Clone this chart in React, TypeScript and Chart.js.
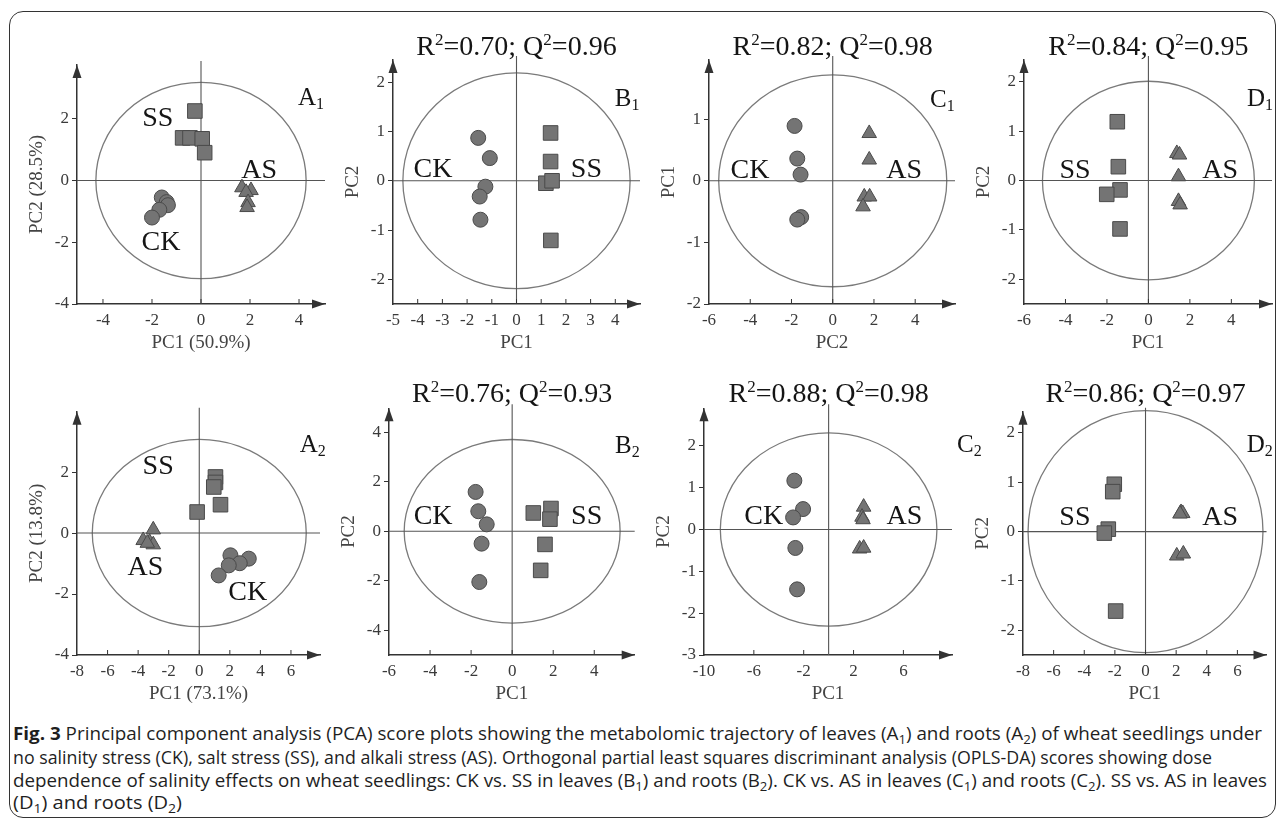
import React, { useEffect, useLayoutEffect, useRef } from "react";
import { Chart, registerables } from "chart.js";
Chart.register(...registerables);

type Pt = [number, number];

// ---------------- data ----------------
// A1 – PCA leaves
const a1SS: Pt[] = [[-0.25, 2.25], [-0.75, 1.38], [-0.45, 1.38], [0.05, 1.35], [0.15, 0.9]];
const a1CK: Pt[] = [[-1.6, -0.55], [-1.4, -0.7], [-1.35, -0.8], [-1.7, -0.95], [-2.0, -1.2]];
const a1AS: Pt[] = [[1.67, -0.23], [2.04, -0.32], [1.84, -0.38], [1.92, -0.71], [1.88, -0.87]];
// B1 – CK vs SS leaves
const b1CK: Pt[] = [[-1.55, 0.87], [-1.08, 0.46], [-1.26, -0.12], [-1.49, -0.32], [-1.46, -0.79]];
const b1SS: Pt[] = [[1.38, 0.97], [1.38, 0.39], [1.19, -0.05], [1.44, 0.0], [1.39, -1.21]];
// C1 – CK vs AS leaves
const c1CK: Pt[] = [[-1.85, 0.89], [-1.72, 0.36], [-1.56, 0.1], [-1.53, -0.59], [-1.72, -0.63]];
const c1AS: Pt[] = [[1.77, 0.77], [1.77, 0.34], [1.53, -0.26], [1.79, -0.26], [1.47, -0.42]];
// D1 – SS vs AS leaves
const d1SS: Pt[] = [[-1.5, 1.19], [-1.45, 0.28], [-1.37, -0.19], [-2.01, -0.28], [-1.37, -0.98]];
const d1AS: Pt[] = [[1.37, 0.55], [1.5, 0.52], [1.45, 0.08], [1.45, -0.42], [1.53, -0.49]];
// A2 – PCA roots
const a2SS: Pt[] = [[1.06, 1.84], [1.06, 1.66], [0.95, 1.51], [1.39, 0.93], [-0.14, 0.69]];
const a2AS: Pt[] = [[-3.01, 0.11], [-3.67, -0.24], [-3.25, -0.3], [-3.01, -0.38], [-3.4, -0.33]];
const a2CK: Pt[] = [[2.04, -0.73], [3.24, -0.84], [2.65, -0.99], [1.93, -1.06], [1.27, -1.39]];
// B2 – CK vs SS roots
const b2CK: Pt[] = [[-1.78, 1.59], [-1.65, 0.81], [-1.24, 0.28], [-1.49, -0.5], [-1.6, -2.05]];
const b2SS: Pt[] = [[1.03, 0.74], [1.89, 0.92], [1.84, 0.49], [1.6, -0.53], [1.39, -1.58]];
// C2 – CK vs AS roots
const c2CK: Pt[] = [[-2.75, 1.17], [-2.05, 0.49], [-2.85, 0.29], [-2.67, -0.44], [-2.53, -1.43]];
const c2AS: Pt[] = [[2.81, 0.54], [2.68, 0.3], [2.76, 0.24], [2.49, -0.46], [2.81, -0.44]];
// D2 – SS vs AS roots
const d2SS: Pt[] = [[-2.04, 0.96], [-2.14, 0.81], [-2.43, 0.05], [-2.69, -0.03], [-1.95, -1.61]];
const d2AS: Pt[] = [[2.32, 0.39], [2.43, 0.37], [2.25, 0.36], [2.04, -0.49], [2.47, -0.45]];

// axis extents
const a1XRange = [-5.06, 5.06], a1YRange = [-4, 3.74];
const b1XRange = [-5, 5], b1YRange = [-2.5, 2.45];
const c1XRange = [-6, 5.93], c1YRange = [-2, 1.96];
const d1XRange = [-6, 5.96], d1YRange = [-2.5, 2.44];
const a2XRange = [-8, 7.9], a2YRange = [-4, 3.98];
const b2XRange = [-6, 5.97], b2YRange = [-5, 4.97];
const c2XRange = [-10, 9.9], c2YRange = [-3, 2.9];
const d2XRange = [-8, 7.9], d2YRange = [-2.5, 2.43];

// tick labels
const a1XTicks = [-4, -2, 0, 2, 4], a1YTicks = [-4, -2, 0, 2];
const b1XTicks = [-5, -4, -3, -2, -1, 0, 1, 2, 3, 4], b1YTicks = [-2, -1, 0, 1, 2];
const c1XTicks = [-6, -4, -2, 0, 2, 4], c1YTicks = [-2, -1, 0, 1];
const d1XTicks = [-6, -4, -2, 0, 2, 4], d1YTicks = [-2, -1, 0, 1, 2];
const a2XTicks = [-8, -6, -4, -2, 0, 2, 4, 6], a2YTicks = [-4, -2, 0, 2];
const b2XTicks = [-6, -4, -2, 0, 2, 4], b2YTicks = [-4, -2, 0, 2, 4];
const c2XTicks = [-10, -6, -2, 2, 6], c2YTicks = [-3, -2, -1, 0, 1, 2];
const d2XTicks = [-8, -6, -4, -2, 0, 2, 4, 6], d2YTicks = [-2, -1, 0, 1, 2];

// Hotelling ellipse half-axes (x, y)
const a1Ellipse = [4.29, 3.18], b1Ellipse = [4.6, 2.19], c1Ellipse = [5.53, 1.72], d1Ellipse = [5.11, 2.01];
const a2Ellipse = [7.0, 3.07], b2Ellipse = [5.26, 3.71], c2Ellipse = [8.69, 2.31], d2Ellipse = [7.67, 2.45];

// model statistics (B1, C1, D1, B2, C2, D2)
const r2Values = [0.7, 0.82, 0.84, 0.76, 0.88, 0.86];
const q2Values = [0.96, 0.98, 0.95, 0.93, 0.98, 0.97];

// ---------------- configuration ----------------
type Shape = "circle" | "rect" | "triangle";
interface Group { shape: Shape; pts: Pt[]; name: string; at: Pt }
interface Panel {
  key: string; letter: string; sub: string; letterAt: Pt;
  xr: number[]; yr: number[]; xt: number[]; yt: number[];
  xTitle: string; yTitle: string; ellipse: number[];
  stats?: [number, number];
  groups: Group[];
  axisX: number; axisY: number; topY: number; rightX: number; rowTop: number; titleY: number;
}

const TOP = { rowTop: 0, axisY: 304, titleY: 55 };
const BOT = { rowTop: 360, axisY: 655, titleY: 402 };

const panels: Panel[] = [
  {
    key: "A1", letter: "A", sub: "1", letterAt: [3.96, 2.45], xr: a1XRange, yr: a1YRange, xt: a1XTicks, yt: a1YTicks,
    xTitle: "PC1 (50.9%)", yTitle: "PC2 (28.5%)", ellipse: a1Ellipse,
    groups: [
      { shape: "rect", pts: a1SS, name: "SS", at: [-1.76, 2.0] },
      { shape: "circle", pts: a1CK, name: "CK", at: [-1.63, -2.0] },
      { shape: "triangle", pts: a1AS, name: "AS", at: [2.37, 0.32] },
    ],
    axisX: 77, topY: 65, rightX: 325, ...TOP,
  },
  {
    key: "B1", letter: "B", sub: "1", letterAt: [3.98, 1.52], xr: b1XRange, yr: b1YRange, xt: b1XTicks, yt: b1YTicks,
    xTitle: "PC1", yTitle: "PC2", ellipse: b1Ellipse, stats: [r2Values[0], q2Values[0]],
    groups: [
      { shape: "circle", pts: b1CK, name: "CK", at: [-3.38, 0.22] },
      { shape: "rect", pts: b1SS, name: "SS", at: [2.83, 0.22] },
    ],
    axisX: 393.3, topY: 60, rightX: 640, ...TOP,
  },
  {
    key: "C1", letter: "C", sub: "1", letterAt: [4.72, 1.2], xr: c1XRange, yr: c1YRange, xt: c1XTicks, yt: c1YTicks,
    xTitle: "PC2", yTitle: "PC1", ellipse: c1Ellipse, stats: [r2Values[1], q2Values[1]],
    groups: [
      { shape: "circle", pts: c1CK, name: "CK", at: [-4.01, 0.16] },
      { shape: "triangle", pts: c1AS, name: "AS", at: [3.46, 0.16] },
    ],
    axisX: 709, topY: 60, rightX: 955, ...TOP,
  },
  {
    key: "D1", letter: "D", sub: "1", letterAt: [4.75, 1.51], xr: d1XRange, yr: d1YRange, xt: d1XTicks, yt: d1YTicks,
    xTitle: "PC1", yTitle: "PC2", ellipse: d1Ellipse, stats: [r2Values[2], q2Values[2]],
    groups: [
      { shape: "rect", pts: d1SS, name: "SS", at: [-3.54, 0.2] },
      { shape: "triangle", pts: d1AS, name: "AS", at: [3.46, 0.2] },
    ],
    axisX: 1024, topY: 60, rightX: 1272, ...TOP,
  },
  {
    key: "A2", letter: "A", sub: "2", letterAt: [6.57, 2.67], xr: a2XRange, yr: a2YRange, xt: a2XTicks, yt: a2YTicks,
    xTitle: "PC1 (73.1%)", yTitle: "PC2 (13.8%)", ellipse: a2Ellipse,
    groups: [
      { shape: "rect", pts: a2SS, name: "SS", at: [-2.69, 2.17] },
      { shape: "triangle", pts: a2AS, name: "AS", at: [-3.52, -1.12] },
      { shape: "circle", pts: a2CK, name: "CK", at: [3.17, -1.94] },
    ],
    axisX: 76.7, topY: 411.7, rightX: 320, ...BOT,
  },
  {
    key: "B2", letter: "B", sub: "2", letterAt: [5.01, 3.17], xr: b2XRange, yr: b2YRange, xt: b2XTicks, yt: b2YTicks,
    xTitle: "PC1", yTitle: "PC2", ellipse: b2Ellipse, stats: [r2Values[3], q2Values[3]],
    groups: [
      { shape: "circle", pts: b2CK, name: "CK", at: [-3.85, 0.61] },
      { shape: "rect", pts: b2SS, name: "SS", at: [3.63, 0.61] },
    ],
    axisX: 389, topY: 408.3, rightX: 634.7, ...BOT,
  },
  {
    key: "C2", letter: "C", sub: "2", letterAt: [10.3, 1.86], xr: c2XRange, yr: c2YRange, xt: c2XTicks, yt: c2YTicks,
    xTitle: "PC1", yTitle: "PC2", ellipse: c2Ellipse, stats: [r2Values[4], q2Values[4]],
    groups: [
      { shape: "circle", pts: c2CK, name: "CK", at: [-5.21, 0.32] },
      { shape: "triangle", pts: c2AS, name: "AS", at: [6.09, 0.32] },
    ],
    axisX: 704.4, topY: 408.3, rightX: 952, ...BOT,
  },
  {
    key: "D2", letter: "D", sub: "2", letterAt: [6.61, 1.62], xr: d2XRange, yr: d2YRange, xt: d2XTicks, yt: d2YTicks,
    xTitle: "PC1", yTitle: "PC2", ellipse: d2Ellipse, stats: [r2Values[5], q2Values[5]],
    groups: [
      { shape: "rect", pts: d2SS, name: "SS", at: [-4.61, 0.29] },
      { shape: "triangle", pts: d2AS, name: "AS", at: [4.87, 0.29] },
    ],
    axisX: 1022.7, topY: 411.7, rightX: 1266.5, ...BOT,
  },
];

const SERIF = '"Liberation Serif", "Times New Roman", Times, serif';
const AXIS = "#333333";
const MARK_FILL = "#747474";
const MARK_EDGE = "#4a4a4a";
const RADIUS: Record<Shape, number> = { circle: 7.5, rect: 10.3, triangle: 8.4 };

type Part = [string, "n" | "sup" | "sub"];
function drawRich(ctx: CanvasRenderingContext2D, parts: Part[], x: number, y: number, size: number, align: "left" | "center") {
  const small = Math.round(size * 0.62);
  const widths = parts.map(([t, k]) => {
    ctx.font = `${k === "n" ? size : small}px ${SERIF}`;
    return ctx.measureText(t).width;
  });
  const total = widths.reduce((a, b) => a + b, 0);
  let cx = align === "center" ? x - total / 2 : x;
  ctx.textAlign = "left";
  ctx.textBaseline = "alphabetic";
  parts.forEach(([t, k], i) => {
    ctx.font = `${k === "n" ? size : small}px ${SERIF}`;
    const dy = k === "sup" ? -size * 0.36 : k === "sub" ? size * 0.17 : 0;
    ctx.fillText(t, cx, y + dy);
    cx += widths[i];
  });
}

function decor(p: Panel) {
  return {
    id: "decor" + p.key,
    beforeDatasetsDraw(chart: any) {
      const { ctx, chartArea: ca, scales } = chart;
      const x = scales.x, y = scales.y;
      const cx = x.getPixelForValue(0), cy = y.getPixelForValue(0);
      ctx.save();
      ctx.strokeStyle = "#7a7a7a";
      ctx.lineWidth = 1.3;
      ctx.beginPath();
      ctx.ellipse(cx, cy, Math.abs(x.getPixelForValue(p.ellipse[0]) - cx), Math.abs(y.getPixelForValue(p.ellipse[1]) - cy), 0, 0, Math.PI * 2);
      ctx.stroke();
      ctx.strokeStyle = "#555555";
      ctx.lineWidth = 1.1;
      ctx.beginPath();
      ctx.moveTo(cx, ca.top - 4);
      ctx.lineTo(cx, ca.bottom);
      ctx.moveTo(ca.left, cy);
      ctx.lineTo(ca.right, cy);
      ctx.stroke();
      ctx.restore();
    },
    afterDraw(chart: any) {
      const { ctx, chartArea: ca, scales } = chart;
      const x = scales.x, y = scales.y;
      ctx.save();
      // inward x tick marks
      ctx.strokeStyle = AXIS;
      ctx.lineWidth = 1;
      ctx.beginPath();
      p.xt.forEach((v) => {
        const px = x.getPixelForValue(v);
        if (Math.abs(px - ca.left) < 2) return;
        ctx.moveTo(px, ca.bottom);
        ctx.lineTo(px, ca.bottom - 5);
      });
      ctx.stroke();
      // arrow heads
      ctx.fillStyle = AXIS;
      ctx.beginPath();
      ctx.moveTo(ca.left, ca.top);
      ctx.lineTo(ca.left - 4.5, ca.top + 13);
      ctx.lineTo(ca.left + 4.5, ca.top + 13);
      ctx.closePath();
      ctx.fill();
      ctx.beginPath();
      ctx.moveTo(ca.right, ca.bottom);
      ctx.lineTo(ca.right - 13, ca.bottom - 4.5);
      ctx.lineTo(ca.right - 13, ca.bottom + 4.5);
      ctx.closePath();
      ctx.fill();
      // group labels
      ctx.fillStyle = "#151515";
      ctx.font = `28px ${SERIF}`;
      ctx.textAlign = "center";
      ctx.textBaseline = "middle";
      p.groups.forEach((g) => {
        ctx.fillText(g.name, x.getPixelForValue(g.at[0]), y.getPixelForValue(g.at[1]));
      });
      // panel letter
      drawRich(ctx, [[p.letter, "n"], [p.sub, "sub"]], x.getPixelForValue(p.letterAt[0]), y.getPixelForValue(p.letterAt[1]), 25, "left");
      // title
      if (p.stats) {
        const [r2, q2] = p.stats;
        drawRich(
          ctx,
          [["R", "n"], ["2", "sup"], [`=${r2.toFixed(2)}; Q`, "n"], ["2", "sup"], [`=${q2.toFixed(2)}`, "n"]],
          x.getPixelForValue(0),
          p.titleY - p.rowTop,
          28,
          "center"
        );
      }
      ctx.restore();
    },
  };
}

const WY = 51;
const HX = 50;
const EXTRA_R = 36;

function PanelChart({ p }: { p: Panel }) {
  const ref = useRef<HTMLCanvasElement>(null);
  const left = Math.round(p.axisX - WY);
  const width = Math.round(p.rightX + EXTRA_R) - left;
  const height = Math.round(p.axisY + HX) - p.rowTop;
  useEffect(() => {
    const tickFont = { family: SERIF, size: 17 };
    const titleFont = { family: SERIF, size: 19 };
    const chart = new Chart(ref.current as HTMLCanvasElement, {
      type: "scatter",
      data: {
        datasets: p.groups.map((g) => ({
          label: g.name,
          data: g.pts.map(([px, py]) => ({ x: px, y: py })),
          pointStyle: g.shape,
          pointRadius: RADIUS[g.shape],
          pointHoverRadius: RADIUS[g.shape],
          backgroundColor: MARK_FILL,
          borderColor: MARK_EDGE,
          borderWidth: 1,
        })),
      },
      options: {
        responsive: false,
        animation: false,
        devicePixelRatio: 1,
        events: [],
        layout: {
          padding: {
            top: p.topY - p.rowTop,
            right: width - (p.rightX - left),
            left: 0,
            bottom: 0,
          },
        },
        plugins: { legend: { display: false }, tooltip: { enabled: false } },
        scales: {
          x: {
            type: "linear",
            min: p.xr[0],
            max: p.xr[1],
            afterFit: (s: any) => { s.height = HX; },
            afterBuildTicks: (s: any) => { s.ticks = p.xt.map((v) => ({ value: v })); },
            grid: { display: false, drawTicks: false },
            border: { display: true, color: AXIS, width: 1.5 },
            ticks: { autoSkip: false, maxRotation: 0, minRotation: 0, padding: 6, font: tickFont, color: "#3a3a3a", callback: (v: any) => String(v) },
            title: { display: true, text: p.xTitle, font: titleFont, color: "#444", padding: 0 },
          },
          y: {
            type: "linear",
            min: p.yr[0],
            max: p.yr[1],
            afterFit: (s: any) => { s.width = WY; },
            afterBuildTicks: (s: any) => { s.ticks = p.yt.map((v) => ({ value: v })); },
            grid: { display: true, drawOnChartArea: false, drawTicks: true, tickLength: 5, color: AXIS, lineWidth: 1 },
            border: { display: true, color: AXIS, width: 1.5 },
            ticks: { autoSkip: false, padding: 3, font: tickFont, color: "#3a3a3a", callback: (v: any) => String(v) },
            title: { display: true, text: p.yTitle, font: titleFont, color: "#444", padding: 0 },
          },
        },
      } as any,
      plugins: [decor(p)],
    });
    return () => chart.destroy();
  }, []);
  return (
    <canvas
      ref={ref}
      width={width}
      height={height}
      style={{ position: "absolute", left, top: p.rowTop, width, height }}
    />
  );
}

const CAP_FONT = '"Liberation Sans Narrow", "Open Sans", "Noto Sans", sans-serif';
const capTargets = [1249, 1199, 1254, 169];
const capCenters = [733, 757, 780, 802];

function Sub({ c }: { c: string }) {
  return <sub style={{ fontSize: "0.7em", verticalAlign: "-0.3em", lineHeight: 0 }}>{c}</sub>;
}

function Caption() {
  const refs = useRef<(HTMLDivElement | null)[]>([]);
  useLayoutEffect(() => {
    refs.current.forEach((el, i) => {
      if (!el) return;
      el.style.transform = "none";
      const w = el.getBoundingClientRect().width;
      if (w > 0) el.style.transform = `scaleX(${capTargets[i] / w})`;
    });
  }, []);
  const lines: React.ReactNode[] = [
    <>
      <b>Fig. 3</b> Principal component analysis (PCA) score plots showing the metabolomic trajectory of leaves (A<Sub c="1" />) and roots (A<Sub c="2" />) of wheat seedlings under
    </>,
    <>no salinity stress (CK), salt stress (SS), and alkali stress (AS). Orthogonal partial least squares discriminant analysis (OPLS-DA) scores showing dose</>,
    <>
      dependence of salinity effects on wheat seedlings: CK vs. SS in leaves (B<Sub c="1" />) and roots (B<Sub c="2" />). CK vs. AS in leaves (C<Sub c="1" />) and roots (C<Sub c="2" />). SS vs. AS in leaves
    </>,
    <>
      (D<Sub c="1" />) and roots (D<Sub c="2" />)
    </>,
  ];
  return (
    <>
      {lines.map((l, i) => (
        <div
          key={i}
          ref={(el) => { refs.current[i] = el; }}
          style={{
            position: "absolute",
            left: 13,
            top: capCenters[i] - 11,
            height: 22,
            lineHeight: "22px",
            fontSize: 18,
            fontFamily: CAP_FONT,
            color: "#1f1f1f",
            whiteSpace: "nowrap",
            display: "inline-block",
            transformOrigin: "left center",
          }}
        >
          {l}
        </div>
      ))}
    </>
  );
}

export default function App() {
  return (
    <div style={{ position: "absolute", left: 0, top: 0, width: 1281, height: 823, background: "#fff", overflow: "hidden" }}>
      <div
        style={{
          position: "absolute",
          left: 9,
          top: 11,
          width: 1267,
          height: 807,
          boxSizing: "border-box",
          border: "1.5px solid #333",
          borderRadius: 14,
        }}
      />
      {panels.map((p) => (
        <PanelChart key={p.key} p={p} />
      ))}
      <Caption />
    </div>
  );
}
